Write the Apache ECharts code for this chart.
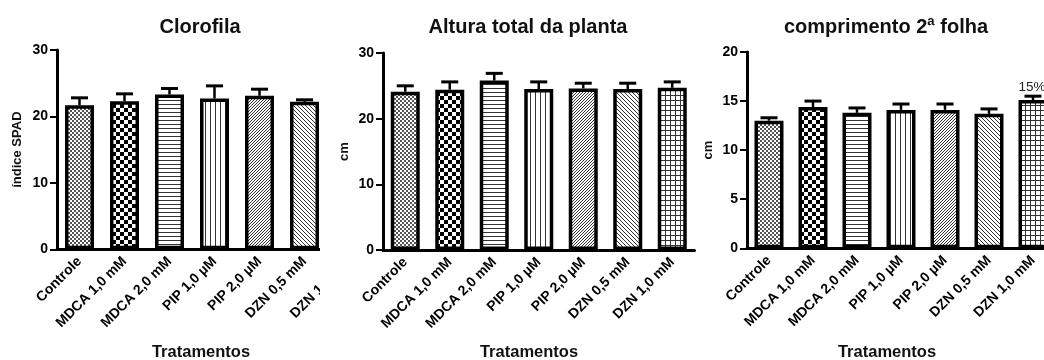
<!DOCTYPE html>
<html><head><meta charset="utf-8">
<script src="https://cdn.jsdelivr.net/npm/echarts@6/dist/echarts.min.js"></script>
<style>html,body{margin:0;padding:0;background:#fff}#c{width:1044px;height:360px}</style>
</head><body><div id="c"></div>
<script>
// ---- data ----
const categories = ['Controle', 'MDCA 1,0 mM', 'MDCA 2,0 mM', 'PIP 1,0 µM', 'PIP 2,0 µM', 'DZN 0,5 mM', 'DZN 1,0 mM'];
const titles = ['Clorofila', 'Altura total da planta', 'comprimento 2ª folha'];
const yNames = ['índice SPAD', 'cm', 'cm'];
const xName = 'Tratamentos';
const clorofila = [21.7, 22.3, 23.3, 22.7, 23.1, 22.2, 22.0];
const clorofilaErr = [1.1, 1.1, 0.9, 1.9, 1.0, 0.3, 0.5];
const altura = [24.1, 24.4, 25.8, 24.5, 24.6, 24.5, 24.7];
const alturaErr = [0.9, 1.2, 1.1, 1.1, 0.8, 0.9, 0.9];
const folha = [13.0, 14.4, 13.8, 14.1, 14.1, 13.7, 15.1];
const folhaErr = [0.3, 0.6, 0.5, 0.6, 0.6, 0.5, 0.4];
const folhaNotes = ['', '', '', '', '', '', '15%'];
const yMax = [30, 30, 20];
const yInterval = [10, 10, 5];

// ---- patterns ----
function tile(n, draw) {
  const c = document.createElement('canvas'); c.width = n; c.height = n;
  const g = c.getContext('2d'); g.fillStyle = '#fff'; g.fillRect(0, 0, n, n);
  draw(g, n); return { image: c, repeat: 'repeat' };
}
const patterns = [
  tile(4, (g) => { g.fillStyle = '#555'; g.fillRect(0, 0, 2, 2); g.fillRect(2, 2, 2, 2); }),
  tile(8, (g) => { g.fillStyle = '#000'; g.fillRect(0, 0, 4, 4); g.fillRect(4, 4, 4, 4); }),
  tile(4, (g) => { g.fillStyle = '#333'; g.fillRect(0, 0, 4, 1); }),
  tile(5, (g) => { g.fillStyle = '#333'; g.fillRect(0, 0, 1, 5); }),
  tile(3, (g, n) => { g.strokeStyle = '#333'; g.lineWidth = 1; g.beginPath();
    g.moveTo(0, n); g.lineTo(n, 0); g.moveTo(-1, 1); g.lineTo(1, -1); g.moveTo(n - 1, n + 1); g.lineTo(n + 1, n - 1); g.stroke(); }),
  tile(4, (g, n) => { g.strokeStyle = '#333'; g.lineWidth = 1; g.beginPath();
    g.moveTo(0, 0); g.lineTo(n, n); g.moveTo(-1, n - 1); g.lineTo(1, n + 1); g.moveTo(n - 1, -1); g.lineTo(n + 1, 1); g.stroke(); }),
  tile(5, (g) => { g.fillStyle = '#333'; g.fillRect(0, 0, 5, 1); g.fillRect(0, 0, 1, 5); })
];

const FONT = "'Liberation Sans', Arial, sans-serif";
const grids = [
  { left: 57, top: 50, width: 315, height: 199.3 },
  { left: 383, top: 53, width: 311.5, height: 197 },
  { left: 747, top: 52, width: 308, height: 196.3 }
];
const centers = [200, 528, 886];
const values = [clorofila, altura, folha];
const errs = [clorofilaErr, alturaErr, folhaErr];
const notes = [null, null, folhaNotes];

function errRender(noteArr) {
  return function (params, api) {
    const i = api.value(0), v = api.value(1), e = api.value(2);
    const b = api.coord([i, v]); const t = api.coord([i, v + e]);
    const half = 8.5;
    const children = [
      { type: 'line', shape: { x1: b[0], y1: b[1], x2: t[0], y2: t[1] }, style: { stroke: '#000', lineWidth: 2.5 } },
      { type: 'line', shape: { x1: t[0] - half, y1: t[1], x2: t[0] + half, y2: t[1] }, style: { stroke: '#000', lineWidth: 3 } }
    ];
    const note = noteArr && noteArr[params.dataIndex];
    if (note) children.push({ type: 'text', x: t[0] - 1, y: t[1] - 2,
      style: { text: note, textAlign: 'center', textVerticalAlign: 'bottom', font: '13.5px ' + FONT, fill: '#222' } });
    return { type: 'group', children };
  };
}

const option = {
  animation: false,
  backgroundColor: '#fff',
  title: [],
  grid: grids.map(g => Object.assign({ outerBoundsMode: 'none', containLabel: false }, g)),
  xAxis: [], yAxis: [], series: [],
  graphic: [{ type: 'rect', z: 5, shape: { x: 320, y: 0, width: 60, height: 360 }, style: { fill: '#fff' } }]
};

for (let p = 0; p < 3; p++) {
  option.title.push({ text: titles[p], left: centers[p], top: 17, textAlign: 'center', padding: 0,
    textStyle: { fontFamily: FONT, fontWeight: 'bold', fontSize: 20, color: '#111' } });
  option.title.push({ text: xName, left: centers[p] + 1, top: 344, textAlign: 'center', padding: 0,
    textStyle: { fontFamily: FONT, fontWeight: 'bold', fontSize: 16.5, color: '#111' } });
  const zz = p === 1 ? 10 : 0;
  option.xAxis.push({
    type: 'category', gridIndex: p, data: categories, z: zz,
    axisLine: { lineStyle: { color: '#000', width: 3 } },
    axisTick: { alignWithLabel: true, length: 6, lineStyle: { color: '#000', width: 2 } },
    axisLabel: { rotate: 45, interval: 0, margin: 10, color: '#000', fontFamily: FONT, fontWeight: 'bold', fontSize: 14 }
  });
  option.yAxis.push({
    type: 'value', gridIndex: p, min: 0, max: yMax[p], interval: yInterval[p], z: zz,
    name: yNames[p], nameLocation: 'middle', nameGap: p === 0 ? 33 : 32,
    nameTextStyle: { fontFamily: FONT, fontWeight: 'bold', fontSize: 13, color: '#111' },
    splitLine: { show: false },
    axisLine: { show: true, lineStyle: { color: '#000', width: 3 } },
    axisTick: { show: true, length: 7, lineStyle: { color: '#000', width: 2 } },
    axisLabel: { margin: 9, color: '#000', fontFamily: FONT, fontWeight: 'bold', fontSize: 14 }
  });
  option.series.push({
    type: 'bar', xAxisIndex: p, yAxisIndex: p, barWidth: 29,
    data: values[p].map((v, i) => ({ value: v, itemStyle: { color: patterns[i] } })),
    itemStyle: { borderColor: '#000', borderWidth: 3.5 }
  });
  option.series.push({
    type: 'custom', xAxisIndex: p, yAxisIndex: p, z: 3,
    renderItem: errRender(notes[p]),
    encode: { x: 0, y: 1 },
    data: values[p].map((v, i) => [i, v, errs[p][i]])
  });
}

echarts.init(document.getElementById('c'), null, { renderer: 'canvas' }).setOption(option);
</script>
</body></html>
